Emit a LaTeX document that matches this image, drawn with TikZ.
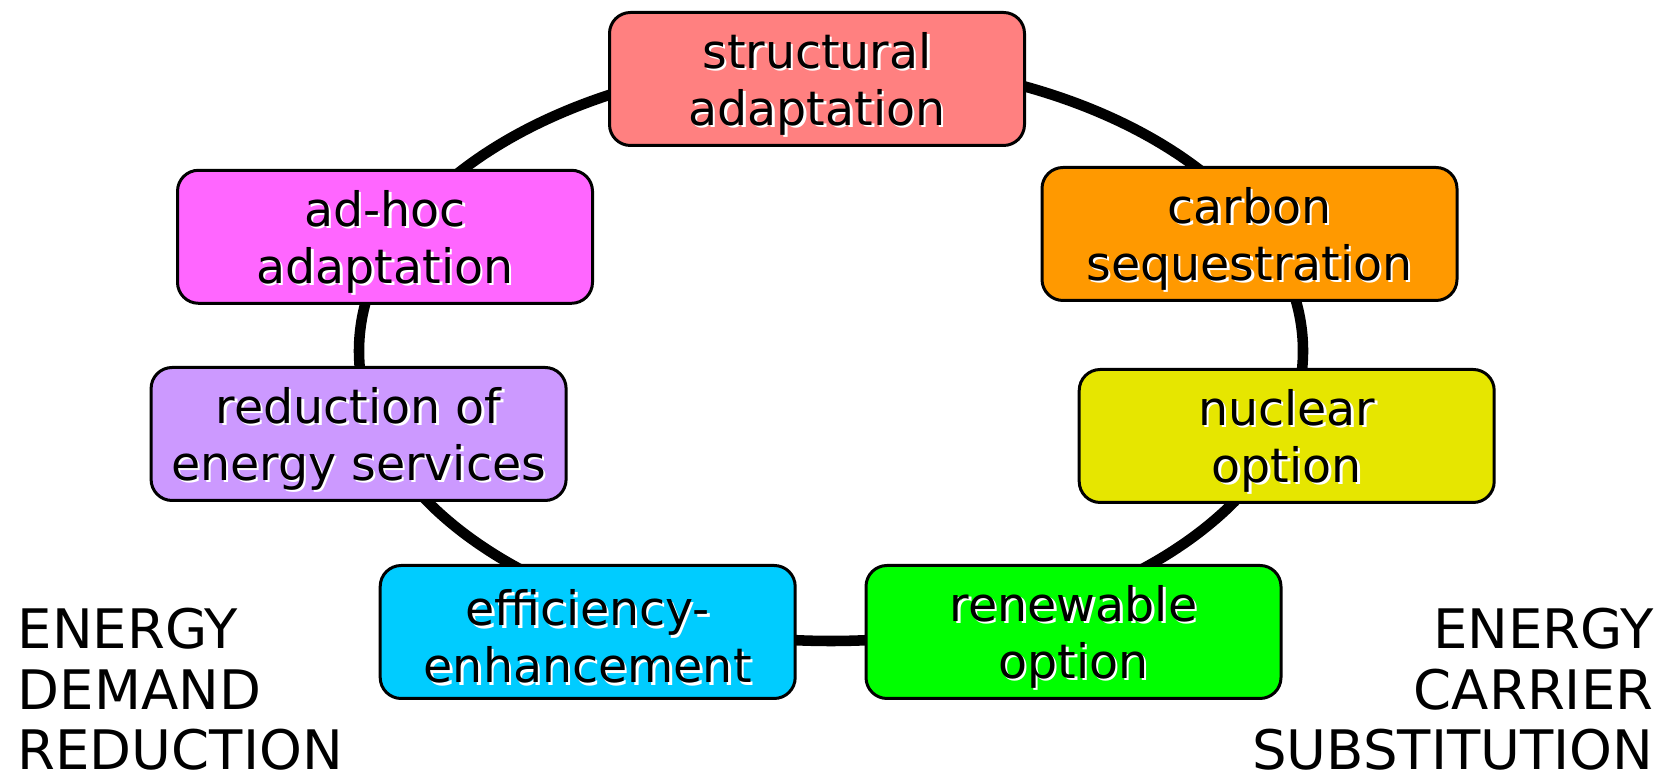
\documentclass[tikz,border=0pt]{standalone}
\usepackage{fontspec}
\setmainfont{DejaVu Sans}
\usepackage{tikz}
\definecolor{c0}{HTML}{FF8080}
\definecolor{c1}{HTML}{FF9900}
\definecolor{c2}{HTML}{E6E600}
\definecolor{c3}{HTML}{00FF00}
\definecolor{c4}{HTML}{00CCFF}
\definecolor{c5}{HTML}{CC99FF}
\definecolor{c6}{HTML}{FF66FF}
% white shadow behind the black text
\newcommand{\sh}[1]{\rlap{\kern0.7pt\raisebox{-0.7pt}{\color{white}#1}}#1}

\begin{document}
\begin{tikzpicture}[scale=1.0,
  opt/.style={draw=black,line width=0.3mm,rounded corners=0.21cm,
    minimum width=4.15cm,minimum height=1.33cm},
  lbl/.style={align=center,yshift=-0.06cm,
    font=\fontsize{13.5}{16.2}\selectfont},
  side/.style={inner sep=0pt,font=\fontsize{15.5}{17.4}\selectfont}]

\useasboundingbox (0,0) rectangle (16.68,7.74);

%\draw[red] (0,0) rectangle (16.68,7.74);

\coordinate (m) at (8.31,4.23);
\draw[line width=3pt] (m) ellipse [x radius=4.72, y radius=2.90];

\node[opt,fill=c0,label={[lbl]center:{\sh{structural}\\\sh{adaptation}}}] (struct) at (8.17,6.95) {};
\node[opt,fill=c1,label={[lbl]center:{\sh{carbon}\\\sh{sequestration}}}] (carbon) at (12.495,5.40) {};
\node[opt,fill=c2,label={[lbl]center:{\sh{nuclear}\\\sh{option}}}] (nuclear) at (12.867,3.38) {};
\node[opt,fill=c3,label={[lbl]center:{\sh{renewable}\\\sh{option}}}] (renew) at (10.735,1.42) {};
\node[opt,fill=c4,label={[lbl]center:{\sh{efficiency-}\\\sh{enhancement}}}] (effic) at (5.877,1.42) {};
\node[opt,fill=c5,label={[lbl]center:{\sh{reduction of}\\\sh{energy services}}}] (reduc) at (3.586,3.40) {};
\node[opt,fill=c6,label={[lbl]center:{\sh{ad-hoc}\\\sh{adaptation}}}] (adhoc) at (3.85,5.372) {};

\node[side,anchor=base west] (dem1) at (0.17,1.25) {ENERGY};
\node[side,anchor=base west] (dem2) at (0.17,0.645) {DEMAND};
\node[side,anchor=base west] (dem3) at (0.17,0.04) {REDUCTION};

\node[side,anchor=base east] (sub1) at (16.54,1.25) {ENERGY};
\node[side,anchor=base east] (sub2) at (16.54,0.645) {CARRIER};
\node[side,anchor=base east] (sub3) at (16.54,0.04) {SUBSTITUTION};

\end{tikzpicture}
\end{document}
